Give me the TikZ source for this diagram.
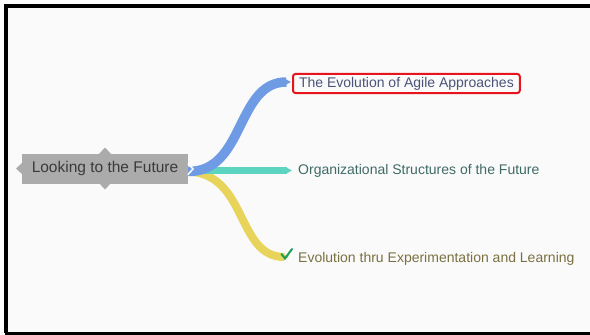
\documentclass[tikz,border=0pt]{standalone}
\usepackage{fontspec}
\setmainfont{Liberation Sans}
\usepackage{tikz}
\usetikzlibrary{arrows.meta}
\usepackage{xcolor}

\definecolor{rootgray}{HTML}{ABABAB}
\definecolor{roottext}{HTML}{3A3A3A}
\definecolor{bluebr}{HTML}{6E9BE3}
\definecolor{tealbr}{HTML}{5CD4C0}
\definecolor{yellowbr}{HTML}{E8D45A}
\definecolor{bluetext}{HTML}{4A5478}
\definecolor{tealtext}{HTML}{3E6B66}
\definecolor{yellowtext}{HTML}{7A7040}
\definecolor{selred}{HTML}{E8141C}
\definecolor{checkgreen}{HTML}{1E9E5A}

\begin{document}
\begin{tikzpicture}[x=1pt,y=-1pt]
	 \tikzstyle{root}=[rectangle,fill=rootgray,text=roottext,minimum width=166pt,minimum height=30pt,inner sep=0pt,font=\fontsize{15.5}{18}\selectfont]
	 \tikzstyle{topic}=[rectangle,anchor=west,inner xsep=6pt,inner ysep=3pt,minimum height=19pt,font=\fontsize{14}{16}\selectfont]
	 \tikzstyle{selected}=[draw=selred,line width=2pt,rounded corners=2.5pt]
	 \tikzstyle{branch}=[draw,line cap=butt,-{Triangle[length=5pt,width'=0pt 1]}]

	\useasboundingbox (0,0) rectangle (590,335);
	\fill[white] (0,0) rectangle (590,335);
	\fill[black!2] (6,6) rectangle (590,333);
	% frame
	\draw[black,line width=4pt] (590,6) -- (6,6) -- (6,333);
	\draw[black,line width=3pt] (4.5,333) -- (590,333);

	\node[root] (root) at (105,168.5) {Looking to the Future};
	\fill[rootgray] (22.5,162.5) -- (16,168.5) -- (22.5,174.5) -- cycle;
	\fill[rootgray] (99,154) -- (105,147.5) -- (111,154) -- cycle;
	\fill[rootgray] (99,183) -- (105,189.5) -- (111,183) -- cycle;

	\node[topic,text=bluetext,selected] (t1) at (292,83.5) {The Evolution of Agile Approaches};
	\node[topic,text=tealtext] (t2) at (292,170.5) {Organizational Structures of the Future};
	\node[topic,text=yellowtext] (t3) at (292,258.5) {Evolution thru Experimentation and Learning};

	\draw[branch,color=yellowbr,line width=8pt] ([yshift=-3pt]root.east) .. controls (248,174) and (236,257) .. ([xshift=-3pt,yshift=1.5pt]t3.west);
	\draw[branch,color=tealbr,line width=7pt] ([xshift=8pt,yshift=-2pt]root.east) -- (t2.west);
	\draw[branch,color=bluebr,line width=9.5pt] ([yshift=-3pt]root.east) .. controls (245,172) and (236,82) .. ([xshift=-1pt,yshift=1.5pt]t1.west);

	\draw[white,line width=1.5pt] (188,163.5) -- (193,169) -- (188,174.5);
	\draw[checkgreen,line width=2pt,line cap=round] (281.5,254) -- (285,258.5) -- (292,249);
 \end{tikzpicture}
\end{document}
